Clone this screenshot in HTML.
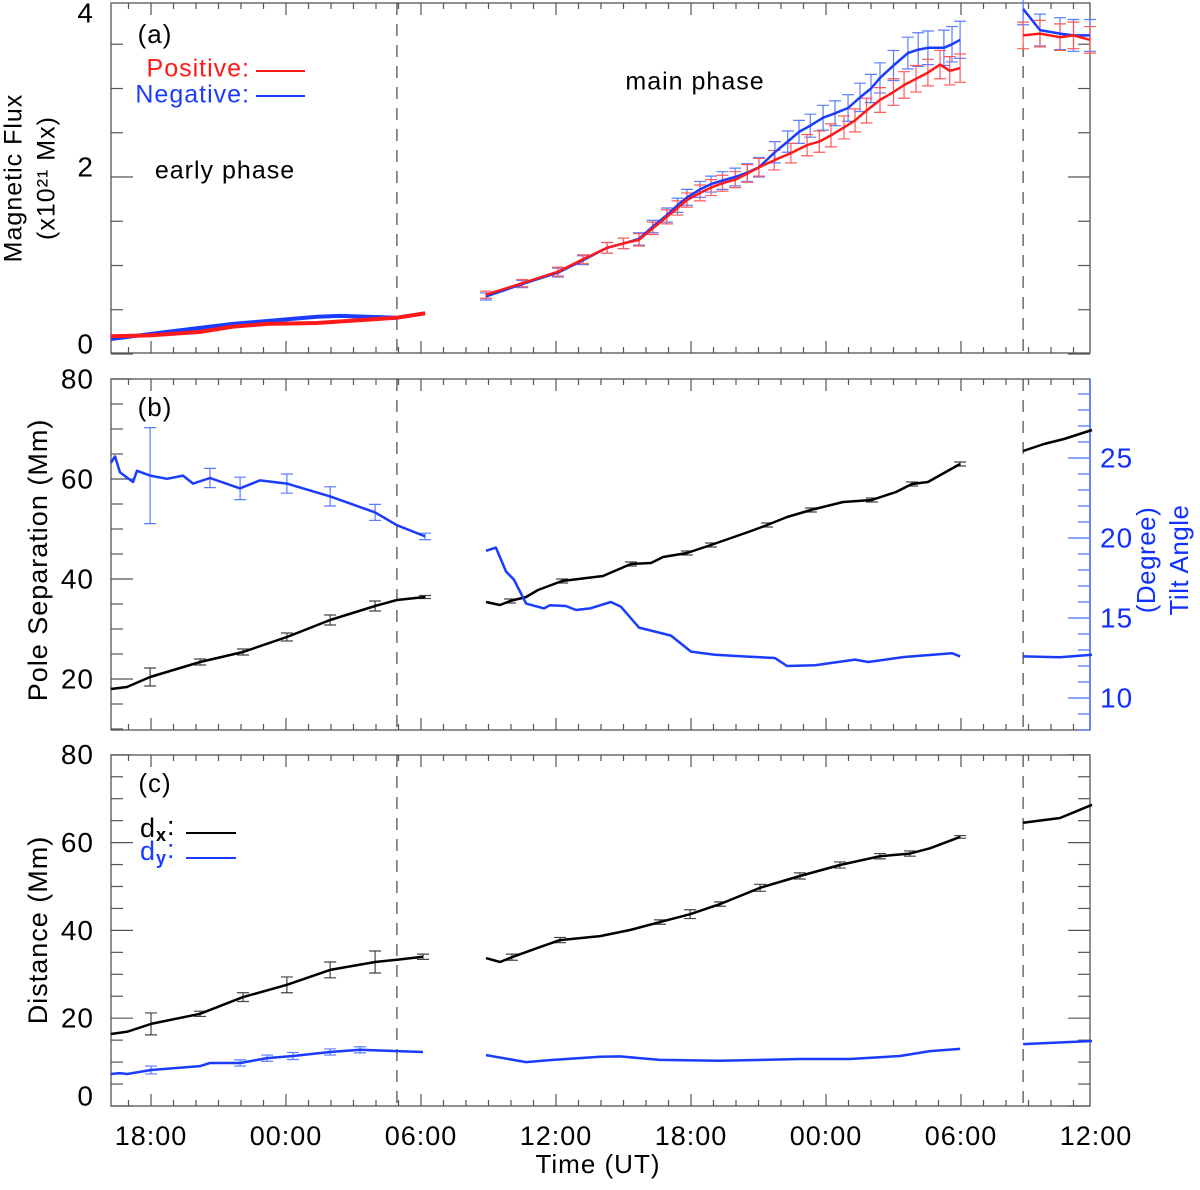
<!DOCTYPE html>
<html><head><meta charset="utf-8"><style>
body{margin:0;background:#fff}
svg text{font-family:"Liberation Sans",sans-serif;letter-spacing:1px}
</style></head><body>
<svg id="c" width="1200" height="1185" viewBox="0 0 1200 1185" xmlns="http://www.w3.org/2000/svg"></svg>
<script>
// ---- data (time in hours from day-1 00:00) ----
const xTickHours=[18,24,30,36,42,48,54,60];
const xTickLabels=["18:00","00:00","06:00","12:00","18:00","00:00","06:00","12:00"];
const dashHours=[28.93,56.76];
// panel a
const posEarlyT=[16.22,17.96,20.18,21.64,23.16,25.38,28.93,30.18];
const posEarlyV=[0.20,0.21,0.25,0.31,0.34,0.35,0.41,0.46];
const negEarlyT=[16.22,18.71,21.64,25.38,26.4,28.93,30.18];
const negEarlyV=[0.17,0.25,0.34,0.42,0.43,0.41,0.46];
const posMainT=[32.89,34.5,36.09,37.2,38.27,39.0,39.69,40.3,40.93,41.4,41.82,42.4,42.89,43.4,43.96,44.5,45.02,45.7,46.44,47.16,47.7,48.22,48.8,49.29,49.8,50.4,51.0,51.47,52.0,52.53,53.07,53.5,53.96];
const posMainV=[0.67,0.80,0.93,1.07,1.20,1.25,1.29,1.42,1.55,1.65,1.74,1.82,1.88,1.93,1.97,2.04,2.11,2.19,2.27,2.36,2.40,2.47,2.56,2.64,2.75,2.87,2.96,3.04,3.11,3.18,3.27,3.2,3.23];
const posMainE=[0.04,0.04,0.05,0.05,0.06,0.06,0.07,0.07,0.08,0.08,0.08,0.09,0.09,0.09,0.09,0.1,0.1,0.11,0.11,0.12,0.12,0.13,0.13,0.13,0.14,0.14,0.15,0.15,0.15,0.15,0.16,0.16,0.16];
const negMainT=[32.89,34.5,36.09,37.2,38.27,39.0,39.69,40.3,40.93,41.4,41.82,42.4,42.89,43.4,43.96,44.5,45.02,45.73,46.3,46.8,47.3,47.87,48.4,48.98,49.51,50.0,50.4,51.0,51.64,52.1,52.53,53.24,53.6,53.96];
const negMainV=[0.65,0.79,0.92,1.06,1.2,1.25,1.30,1.44,1.57,1.68,1.77,1.86,1.92,1.96,2.0,2.05,2.11,2.28,2.40,2.51,2.58,2.67,2.72,2.78,2.90,3.0,3.12,3.26,3.40,3.44,3.46,3.46,3.50,3.55];
const negMainE=[0.04,0.04,0.05,0.05,0.06,0.06,0.07,0.07,0.08,0.08,0.09,0.09,0.09,0.1,0.1,0.1,0.11,0.12,0.12,0.13,0.13,0.14,0.14,0.15,0.16,0.16,0.17,0.17,0.18,0.19,0.19,0.2,0.2,0.21];
const posLateT=[56.76,57.51,58.4,59.0,59.73];
const posLateV=[3.6,3.62,3.58,3.6,3.55];
const posLateE=[0.15,0.15,0.15,0.15,0.15];
const negLateT=[56.76,57.51,58.4,59.0,59.73];
const negLateV=[3.9,3.66,3.62,3.60,3.60];
const negLateE=[0.18,0.18,0.18,0.18,0.18];
// panel b
const sepEarlyT=[16.22,16.93,17.96,20.18,22.09,24.04,25.96,27.96,28.93,30.18];
const sepEarlyV=[18,18.4,20.4,23.4,25.4,28.4,31.8,34.6,35.8,36.4];
const sepEarlyE=[0,0,1.8,0.6,0.6,0.8,1,1,0,0.3];
const sepMainT=[32.89,33.51,33.96,34.67,35.2,36.27,38.09,39.33,40.22,40.76,41.82,42.89,44.67,45.38,46.27,47.33,48.76,50.04,51.11,51.82,52.53,53.96];
const sepMainV=[35.4,34.8,35.6,36.4,37.8,39.6,40.6,43,43.2,44.4,45.2,46.8,49.6,50.8,52.4,53.8,55.4,55.8,57.4,59,59.4,63];
const sepMainE=[0,0,0.4,0,0,0.4,0,0.4,0,0,0.4,0.4,0,0.4,0,0.4,0,0.4,0,0.4,0,0.4];
const sepLateT=[56.76,57.69,58.58,59.82];
const sepLateV=[65.6,67,68,69.8];
const tiltEarlyT=[16.22,16.4,16.62,17.2,17.38,17.96,18.71,19.42,19.87,20.62,21.96,22.84,24.04,25.96,27.96,28.93,30.18];
const tiltEarlyV=[24.7,25.1,24.1,23.5,24.2,23.9,23.7,23.9,23.4,23.75,23.1,23.6,23.4,22.6,21.6,20.8,20.1];
const tiltEarlyE=[0,0,0,0,0,3,0,0,0,0.6,0.7,0,0.6,0.6,0.5,0,0.2];
const tiltMainT=[32.89,33.33,33.78,34.13,34.67,35.47,35.73,36.44,36.89,37.51,38.44,38.89,39.69,41.11,42,43.07,44.31,45.73,46.27,47.51,49.29,49.87,51.47,53.6,53.96];
const tiltMainV=[19.2,19.4,17.9,17.4,15.9,15.6,15.8,15.75,15.5,15.6,16,15.7,14.4,13.9,12.9,12.7,12.6,12.5,12.0,12.05,12.4,12.25,12.56,12.8,12.6];
const tiltLateT=[56.76,58.4,59.82];
const tiltLateV=[12.6,12.55,12.7];
// panel c
const dxEarlyT=[16.22,16.93,18,20.18,22.09,24.04,25.96,27.96,28.93,30.09];
const dxEarlyV=[16.4,16.9,18.7,21,24.8,27.6,31,32.8,33.3,34];
const dxEarlyE=[0,0,2.5,0.6,1,1.8,1.8,2.5,0,0.6];
const dxMainT=[32.89,33.51,34.04,35.29,36.18,37.96,39.29,40.62,41.96,43.29,45.07,46.84,48.62,50.4,51.73,52.62,53.96];
const dxMainV=[33.7,32.8,33.9,36.2,37.8,38.7,40.1,41.9,43.7,46,49.7,52.4,54.9,56.9,57.5,58.7,61.3];
const dxMainE=[0,0,0.7,0,0.6,0,0,0.5,1,0.5,0.8,0.7,0.7,0.6,0.6,0,0.3];
const dxLateT=[56.76,58.4,59.82];
const dxLateV=[64.5,65.6,68.6];
const dyEarlyT=[16.22,16.62,16.93,18,20.18,20.62,21.96,23.16,24.31,25.96,27.29,28.93,30.09];
const dyEarlyV=[7.3,7.5,7.3,8.2,9.1,9.8,9.8,10.9,11.4,12.3,12.8,12.5,12.3];
const dyEarlyE=[0,0,0,0.9,0,0,0.7,0.7,0.8,0.7,0.7,0,0];
const dyMainT=[32.89,34.67,35.87,37.96,38.84,40.62,43.29,46.84,49.07,51.29,52.62,53.96];
const dyMainV=[11.6,10.0,10.5,11.2,11.3,10.5,10.3,10.7,10.7,11.4,12.5,13.0];
const dyLateT=[56.76,59.82];
const dyLateV=[14.1,14.8];

// ---- drawing ----
const svg=document.getElementById('c');
const NS='http://www.w3.org/2000/svg';
const L=111,R=1090;
const X=t=>151+(t-18)*22.5;
function mk(tag,attrs,parent){const e=document.createElementNS(NS,tag);for(const k in attrs)e.setAttribute(k,attrs[k]);(parent||svg).appendChild(e);return e;}
function txt(s,x,y,size,fill,anchor,name,rot){const e=mk('text',{x:x,y:y,'font-size':size,fill:fill,'text-anchor':anchor||'middle','dominant-baseline':'middle'});if(rot)e.setAttribute('transform','rotate(-90 '+x+' '+y+')');e.textContent=s;

return e;}
const panels=[{top:3,bot:353,y:v=>354-88.5*v,name:'panel-a'},{top:379,bot:730,y:v=>679-(v-20)*5,name:'panel-b'},{top:755,bot:1106,y:v=>1106-4.39*v,name:'panel-c'}];
const yR=v=>698-(v-10)*16;
panels.forEach((p,pi)=>{
  const g=mk('g',{});
  
  
  const box=mk('rect',{x:L,y:p.top,width:R-L,height:p.bot-p.top,fill:'none',stroke:'#555','stroke-width':1.3},g);
  
  
  for(let h=17;h<=59;h++){const major=h%6===0;const len=major?12:6;
    mk('line',{x1:X(h),x2:X(h),y1:p.bot,y2:p.bot-len,stroke:'#555','stroke-width':1.2},g);
    mk('line',{x1:X(h),x2:X(h),y1:p.top,y2:p.top+len,stroke:'#555','stroke-width':1.2},g);}
  dashHours.forEach(h=>{const d=mk('line',{x1:X(h),x2:X(h),y1:p.top,y2:p.bot,stroke:'#444','stroke-width':1.2,'stroke-dasharray':'12,9'},g);
    
    });
  let minorStep,majorStep,vmin,vmax;
  if(pi===0){minorStep=0.5;majorStep=2;vmin=0;vmax=4;}else if(pi===1){minorStep=5;majorStep=20;vmin=10;vmax=80;}else{minorStep=5;majorStep=20;vmin=0;vmax=80;}
  for(let v=vmin;v<=vmax+1e-6;v+=minorStep){const y=p.y(v);const major=Math.abs(v/majorStep-Math.round(v/majorStep))<1e-6;const len=major?22:12;
    if(y>=p.top-1&&y<=p.bot+1){mk('line',{x1:L,x2:L+len,y1:y,y2:y,stroke:'#555','stroke-width':1.2},g);
      if(pi!==1)mk('line',{x1:R,x2:R-len,y1:y,y2:y,stroke:'#555','stroke-width':1.2},g);}
    if(major)txt(String(v),94,pi===0?Math.max(y-8,15):(pi===2&&v===0?y-8:y+2),28,'#000','end','y-tick-label');}
  if(pi===1){for(let v=8;v<=30;v++){const y=yR(v);if(y<p.top||y>p.bot)continue;const len=v%5===0?22:12;
      mk('line',{x1:R,x2:R-len,y1:y,y2:y,stroke:'#4a6cff','stroke-width':1.2},g);
      if(v%5===0)txt(String(v),1100,y+2,28,'#1030ff','start','right-tick-label');}
    const ra=mk('line',{x1:R,x2:R,y1:p.top,y2:p.bot,stroke:'#4a6cff','stroke-width':1.5},g);
    
    }
});
function line(T,V,yf,color,name,w){const d=T.map((t,i)=>(i?'L':'M')+X(t).toFixed(1)+' '+yf(V[i]).toFixed(1)).join(' ');
  const e=mk('path',{d:d,fill:'none',stroke:color,'stroke-width':w||2.5,'stroke-linejoin':'round'});
  
  }
function errs(T,V,E,yf,color,name){T.forEach((t,i)=>{if(!E[i])return;const x=X(t),y1=yf(V[i]-E[i]),y2=yf(V[i]+E[i]);
  const e=mk('path',{d:`M${x} ${y1}V${y2}M${x-6} ${y1}H${x+6}M${x-6} ${y2}H${x+6}`,stroke:color,'stroke-width':1.2,fill:'none'});
  
  });}
const ya=panels[0].y,yb=panels[1].y,yc=panels[2].y;
// panel a
errs(negMainT,negMainV,negMainE,ya,'#5a7cff','neg-flux-error');
errs(posMainT,posMainV,posMainE,ya,'#ff5a5a','pos-flux-error');
errs(negLateT,negLateV,negLateE,ya,'#5a7cff','neg-flux-error');
errs(posLateT,posLateV,posLateE,ya,'#ff5a5a','pos-flux-error');
line(negEarlyT,negEarlyV,ya,'#1a3cff','neg-flux-early',4);
line(posEarlyT,posEarlyV,ya,'#ff1a1a','pos-flux-early',4);
line(negMainT,negMainV,ya,'#1a3cff','neg-flux-main');
line(posMainT,posMainV,ya,'#ff1a1a','pos-flux-main');
line(negLateT,negLateV,ya,'#1a3cff','neg-flux-late');
line(posLateT,posLateV,ya,'#ff1a1a','pos-flux-late');
// panel b
errs(sepEarlyT,sepEarlyV,sepEarlyE,yb,'#444','separation-error');
errs(sepMainT,sepMainV,sepMainE,yb,'#444','separation-error');
errs(tiltEarlyT,tiltEarlyV,tiltEarlyE,yR,'#5a7cff','tilt-error');
line(sepEarlyT,sepEarlyV,yb,'#000','separation-early');
line(sepMainT,sepMainV,yb,'#000','separation-main');
line(sepLateT,sepLateV,yb,'#000','separation-late');
line(tiltEarlyT,tiltEarlyV,yR,'#1a3cff','tilt-early');
line(tiltMainT,tiltMainV,yR,'#1a3cff','tilt-main');
line(tiltLateT,tiltLateV,yR,'#1a3cff','tilt-late');
// panel c
errs(dxEarlyT,dxEarlyV,dxEarlyE,yc,'#444','dx-error');
errs(dxMainT,dxMainV,dxMainE,yc,'#444','dx-error');
errs(dyEarlyT,dyEarlyV,dyEarlyE,yc,'#5a7cff','dy-error');
line(dxEarlyT,dxEarlyV,yc,'#000','dx-early');
line(dxMainT,dxMainV,yc,'#000','dx-main');
line(dxLateT,dxLateV,yc,'#000','dx-late');
line(dyEarlyT,dyEarlyV,yc,'#1a3cff','dy-early');
line(dyMainT,dyMainV,yc,'#1a3cff','dy-main');
line(dyLateT,dyLateV,yc,'#1a3cff','dy-late');
// x labels
xTickHours.forEach((h,i)=>txt(xTickLabels[i],Math.min(X(h),1098),1138,27,'#000','middle','x-tick-label'));
txt('Time (UT)',598,1166,26,'#000','middle','x-axis-title');
// titles & annotations
txt('Magnetic Flux',15,178,25,'#000','middle','y-axis-title-a',true);
txt('(x10²¹ Mx)',48,178,25,'#000','middle','y-axis-unit-a',true);
txt('Pole Separation (Mm)',40,560,27,'#000','middle','y-axis-title-b',true);
txt('Distance (Mm)',40,930,27,'#000','middle','y-axis-title-c',true);
const t1=txt('(Degree)',1148,560,26,'#1030ff','middle','right-axis-unit',true);
t1.style.letterSpacing='0.5px';
const t2=txt('Tilt Angle',1181,560,26,'#1030ff','middle','right-axis-title',true);
t2.style.letterSpacing='0.5px';
txt('(a)',155,36,26,'#000','middle','panel-label-a');
txt('(b)',155,409,26,'#000','middle','panel-label-b');
txt('(c)',155,785,26,'#000','middle','panel-label-c');
txt('early phase',225,172,25,'#000','middle','early-phase-label');
txt('main phase',695,83,25,'#000','middle','main-phase-label');
txt('Positive:',250,70,25,'#ff1a1a','end','legend-positive');
txt('Negative:',250,96,25,'#1a3cff','end','legend-negative');
mk('line',{x1:256,x2:305,y1:71,y2:71,stroke:'#ff1a1a','stroke-width':2});
mk('line',{x1:256,x2:305,y1:96,y2:96,stroke:'#1a3cff','stroke-width':2});
const dx=mk('text',{x:140,y:830,'font-size':27,fill:'#000','dominant-baseline':'middle'});
dx.innerHTML='d<tspan font-size="18" dy="6" font-weight="bold">x</tspan><tspan dy="-8">:</tspan>';


const dy=mk('text',{x:140,y:853,'font-size':27,fill:'#1a3cff','dominant-baseline':'middle'});
dy.innerHTML='d<tspan font-size="18" dy="6" font-weight="bold">y</tspan><tspan dy="-8">:</tspan>';


mk('line',{x1:186,x2:236,y1:833,y2:833,stroke:'#000','stroke-width':2});
mk('line',{x1:186,x2:236,y1:858,y2:858,stroke:'#1a3cff','stroke-width':2});
</script>
</body></html>
